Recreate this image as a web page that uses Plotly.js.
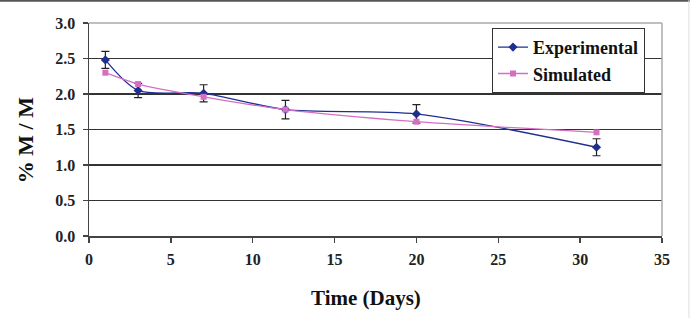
<!DOCTYPE html>
<html><head><meta charset="utf-8">
<script src="https://cdn.plot.ly/plotly-3.0.1.min.js"></script>
<style>html,body{margin:0;padding:0;background:#fff;}#chart{width:690px;height:318px;}</style>
</head><body><div id="chart"></div>
<script>
const days = [1, 3, 7, 12, 20, 31];
const experimental = [2.48, 2.05, 2.01, 1.78, 1.72, 1.25];
const experimentalErr = [0.12, 0.10, 0.12, 0.13, 0.13, 0.12];
const simulated = [2.30, 2.14, 1.96, 1.78, 1.61, 1.46];
const xTicks = [0, 5, 10, 15, 20, 25, 30, 35];
const yTicks = [0, 0.5, 1.0, 1.5, 2.0, 2.5, 3.0];
const xTitle = 'Time (Days)';
const yTitle = '% M / M';

const serif = '"Liberation Serif", "Times New Roman", serif';
const traces = [
  {x: days, y: experimental, name: 'Experimental', type: 'scatter', mode: 'lines+markers',
   line: {color: '#1f2f8f', width: 1.3, shape: 'spline', smoothing: 0.8},
   marker: {symbol: 'diamond', size: 7, color: '#1f2f8f'},
   error_y: {type: 'data', array: experimentalErr, visible: true, color: '#222', thickness: 1.2, width: 4}},
  {x: days, y: simulated, name: 'Simulated', type: 'scatter', mode: 'lines+markers',
   line: {color: '#d56fc4', width: 1.3, shape: 'spline', smoothing: 0.8},
   marker: {symbol: 'square', size: 6, color: '#d56fc4'}}
];
const layout = {
  width: 690, height: 318,
  margin: {l: 89, r: 28, t: 23, b: 82},
  paper_bgcolor: '#fff', plot_bgcolor: '#fff',
  font: {family: serif, color: '#222'},
  showlegend: true,
  legend: {x: 0.703, y: 0.978, xanchor: 'left', yanchor: 'top', bgcolor: '#fff',
    bordercolor: '#333', borderwidth: 1.2, font: {family: serif, size: 18, color: '#111', weight: 'bold'},
    tracegroupgap: 0, itemwidth: 30},
  xaxis: {range: [0, 35], tickvals: xTicks, ticktext: xTicks.map(String),
    showline: true, linecolor: '#444', linewidth: 1.5, mirror: false,
    ticks: 'outside', ticklen: 5, tickcolor: '#444', tickwidth: 1.5,
    ticklabelstandoff: 3,
    showgrid: false, zeroline: false,
    tickfont: {family: serif, size: 16, color: '#222', weight: 'bold'}},
  yaxis: {range: [0, 3.0], tickvals: yTicks, ticktext: yTicks.map(v => v.toFixed(1)),
    showline: true, linecolor: '#444', linewidth: 1.5,
    ticks: 'outside', ticklen: 5, tickcolor: '#444', tickwidth: 1.5,
    ticklabelstandoff: 4,
    showgrid: true, gridcolor: '#333', gridwidth: 1.3, zeroline: false,
    tickfont: {family: serif, size: 16, color: '#222', weight: 'bold'}},
  annotations: [
    {text: xTitle, xref: 'paper', yref: 'paper', x: 0.4834, y: -0.291, xanchor: 'center', yanchor: 'middle',
     showarrow: false, font: {family: serif, size: 21, color: '#111', weight: 'bold'}},
    {text: yTitle, xref: 'paper', yref: 'paper', x: -0.1117, y: 0.45, xanchor: 'center', yanchor: 'middle',
     textangle: -90, showarrow: false, font: {family: serif, size: 22, color: '#111', weight: 'bold'}}
  ],
  shapes: [
    {type: 'line', xref: 'paper', yref: 'paper', x0: 0, x1: 1, y0: 1, y1: 1, line: {color: '#aaa', width: 1.5}},
    {type: 'line', xref: 'paper', yref: 'paper', x0: 1, x1: 1, y0: 0, y1: 1, line: {color: '#aaa', width: 1.5}},
    {type: 'line', xref: 'paper', yref: 'paper', x0: -0.2, x1: 1.1, y0: 1.105, y1: 1.105, line: {color: '#555', width: 2}},
    {type: 'line', xref: 'paper', yref: 'paper', x0: 1.047, x1: 1.047, y0: -0.5, y1: 1.11, line: {color: '#ddd', width: 1}}
  ]
};
Plotly.newPlot('chart', traces, layout, {displayModeBar: false, staticPlot: true});
</script></body></html>
